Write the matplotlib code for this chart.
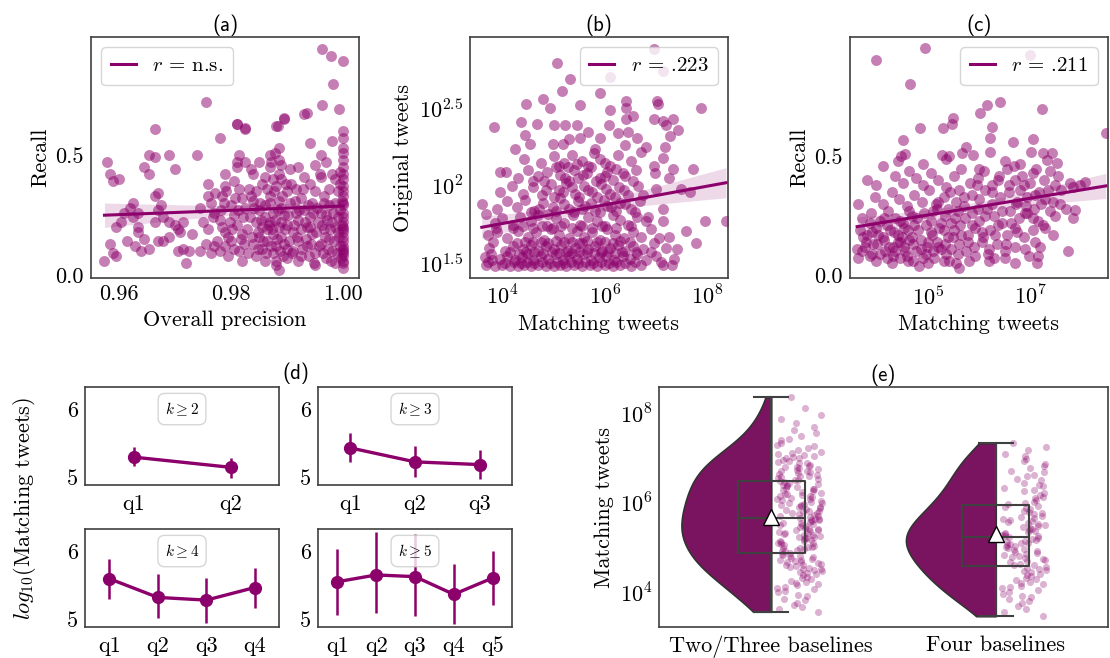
import numpy as np
import matplotlib
matplotlib.use('Agg')
import matplotlib.pyplot as plt
from matplotlib.ticker import FixedLocator, FuncFormatter

plt.rcParams['font.family'] = 'cmr10'
plt.rcParams['mathtext.fontset'] = 'cm'
plt.rcParams['axes.unicode_minus'] = False
plt.rcParams['axes.formatter.use_mathtext'] = True

# ---------------- data ----------------
# (a) overall precision vs recall
points_a = [
    (0.9575, 0.06), (0.958, 0.47), (0.9585, 0.42), (0.959, 0.39), (0.960, 0.40), (0.9585, 0.13),
    (0.959, 0.09), (0.9595, 0.20), (0.9605, 0.22), (0.961, 0.26), (0.962, 0.28), (0.9625, 0.30),
    (0.9615, 0.14), (0.963, 0.12), (0.9635, 0.26), (0.9645, 0.45), (0.9655, 0.42), (0.9645, 0.15),
    (0.964, 0.10), (0.9635, 0.20), (0.9655, 0.50), (0.9665, 0.33), (0.967, 0.34), (0.9665, 0.22),
    (0.967, 0.27), (0.9675, 0.29), (0.967, 0.14), (0.968, 0.14), (0.9665, 0.61), (0.9665, 0.49),
    (0.969, 0.50), (0.969, 0.22), (0.970, 0.21), (0.9705, 0.19), (0.971, 0.18), (0.970, 0.44),
    (0.9705, 0.10), (0.9715, 0.11), (0.972, 0.05), (0.9725, 0.10), (0.974, 0.50), (0.9745, 0.10),
    (0.975, 0.22), (0.9755, 0.13), (0.976, 0.38), (0.976, 0.33), (0.9765, 0.30), (0.9756, 0.72),
    (0.9765, 0.09), (0.977, 0.26), (0.9775, 0.14), (0.977, 0.12),
    (0.978, 0.57), (0.979, 0.42), (0.979, 0.37), (0.9785, 0.33), (0.978, 0.23), (0.9785, 0.20),
    (0.979, 0.18), (0.9795, 0.16), (0.979, 0.12), (0.978, 0.10), (0.9795, 0.08), (0.980, 0.29),
    (0.9805, 0.25), (0.980, 0.14), (0.981, 0.47), (0.981, 0.45), (0.9805, 0.39), (0.9815, 0.36),
    (0.981, 0.63), (0.9815, 0.50), (0.981, 0.21), (0.9815, 0.10), (0.982, 0.06), (0.982, 0.32),
    (0.9825, 0.61), (0.9825, 0.47), (0.9825, 0.28), (0.982, 0.17), (0.983, 0.09), (0.9835, 0.33),
    (0.9835, 0.44), (0.984, 0.42), (0.984, 0.31), (0.9845, 0.22), (0.984, 0.13), (0.9845, 0.08),
    (0.985, 0.47), (0.9855, 0.38), (0.985, 0.27), (0.9855, 0.20), (0.985, 0.16), (0.9855, 0.11),
    (0.986, 0.06), (0.986, 0.41), (0.9865, 0.36), (0.986, 0.24), (0.9865, 0.19), (0.9865, 0.14),
    (0.987, 0.50), (0.987, 0.45), (0.9875, 0.40), (0.987, 0.30), (0.9875, 0.26), (0.987, 0.22),
    (0.9875, 0.17), (0.988, 0.12), (0.9875, 0.09), (0.988, 0.06), (0.988, 0.62), (0.9885, 0.53),
    (0.9885, 0.42), (0.988, 0.37), (0.9885, 0.31), (0.9885, 0.20), (0.988, 0.04), (0.9885, 0.02),
    (0.989, 0.46), (0.989, 0.40), (0.9895, 0.65), (0.989, 0.28), (0.9895, 0.25), (0.989, 0.16),
    (0.9895, 0.13), (0.990, 0.07), (0.990, 0.35), (0.9905, 0.44), (0.9905, 0.30), (0.990, 0.21),
    (0.991, 0.18), (0.991, 0.10), (0.9915, 0.36), (0.9915, 0.26), (0.992, 0.45), (0.992, 0.23),
    (0.992, 0.14), (0.9925, 0.08), (0.9925, 0.32), (0.993, 0.67), (0.993, 0.41), (0.993, 0.27),
    (0.9935, 0.20), (0.9935, 0.12), (0.994, 0.55), (0.994, 0.38), (0.994, 0.24), (0.9945, 0.30),
    (0.9945, 0.17), (0.995, 0.46), (0.995, 0.09), (0.9955, 0.22), (0.995, 0.04),
    (0.996, 0.50), (0.996, 0.41), (0.9965, 0.33), (0.996, 0.26), (0.9965, 0.19), (0.996, 0.13),
    (0.997, 0.07), (0.997, 0.47), (0.9975, 0.36), (0.997, 0.25), (0.9975, 0.15), (0.998, 0.10),
    (0.998, 0.56), (0.998, 0.42), (0.9985, 0.30), (0.998, 0.22), (0.9985, 0.05), (0.999, 0.35),
    (0.999, 0.18), (0.9995, 0.12), (0.9995, 0.43), (0.9995, 0.27), (1.0, 0.57), (1.0, 0.60),
    (1.0, 0.53), (1.0, 0.48), (1.0, 0.40), (1.0, 0.37), (1.0, 0.33), (1.0, 0.30), (1.0, 0.26),
    (1.0, 0.22), (1.0, 0.20), (1.0, 0.18), (1.0, 0.14), (1.0, 0.11), (1.0, 0.08), (1.0, 0.06),
    (1.0, 0.03), (0.9963, 0.944), (0.9978, 0.912), (1.0, 0.893), (0.9981, 0.796), (0.9963, 0.708),
    (0.9992, 0.692), (0.9935, 0.674), (0.9895, 0.656), (0.9883, 0.621), (0.9825, 0.614),
    (0.981, 0.629),
    (0.9782, 0.27), (0.9788, 0.30), (0.9792, 0.35), (0.9798, 0.22), (0.9802, 0.19), (0.9806, 0.11),
    (0.9808, 0.32), (0.9812, 0.27), (0.9818, 0.15), (0.9822, 0.24), (0.9824, 0.13), (0.9828, 0.19),
    (0.9832, 0.36), (0.9834, 0.24), (0.9838, 0.16), (0.9842, 0.28), (0.9844, 0.35), (0.9848, 0.11),
    (0.9852, 0.30), (0.9849, 0.18),
    (0.9853, 0.23), (0.9858, 0.14), (0.9861, 0.29), (0.9863, 0.09), (0.9867, 0.21), (0.9869, 0.33),
    (0.9872, 0.12), (0.9874, 0.19), (0.9877, 0.35), (0.9879, 0.23), (0.9882, 0.15), (0.9884, 0.27),
    (0.9887, 0.10), (0.9889, 0.22), (0.9891, 0.33), (0.9893, 0.08), (0.9896, 0.19), (0.9898, 0.38),
    (0.9899, 0.11), (0.9886, 0.48), (0.9878, 0.51), (0.9872, 0.47),
    (0.9902, 0.25), (0.9904, 0.14), (0.9907, 0.38), (0.9909, 0.09), (0.9912, 0.21), (0.9914, 0.31),
    (0.9917, 0.16), (0.9919, 0.06), (0.9922, 0.27), (0.9924, 0.19), (0.9927, 0.11), (0.9929, 0.36),
    (0.9932, 0.22), (0.9934, 0.15), (0.9937, 0.29), (0.9939, 0.08), (0.9941, 0.20), (0.9943, 0.13),
    (0.9946, 0.26), (0.9948, 0.05), (0.9949, 0.35), (0.9952, 0.18), (0.9954, 0.28), (0.9957, 0.12),
    (0.9959, 0.42),
    (0.9962, 0.21), (0.9964, 0.09), (0.9966, 0.30), (0.9968, 0.16), (0.9971, 0.23), (0.9973, 0.11),
    (0.9974, 0.29), (0.9977, 0.19), (0.9979, 0.06), (0.9981, 0.26), (0.9983, 0.14), (0.9986, 0.20),
    (0.9988, 0.09), (0.9991, 0.24), (0.9993, 0.16), (0.9996, 0.07), (0.9998, 0.21), (1.0, 0.24),
    (1.0, 0.16), (1.0, 0.12), (1.0, 0.09), (1.0, 0.29), (1.0, 0.35), (1.0, 0.42), (1.0, 0.45),
    (1.0, 0.51), (1.0, 0.19), (1.0, 0.10), (1.0, 0.05), (0.9997, 0.31), (0.9994, 0.38),
    (0.9985, 0.40),
    (0.9595, 0.08), (0.9625, 0.24), (0.9635, 0.18), (0.9655, 0.11), (0.968, 0.24), (0.969, 0.16),
    (0.9715, 0.22), (0.973, 0.17), (0.9745, 0.28), (0.976, 0.19), (0.9768, 0.24), (0.9772, 0.34),
]
precision_a = [p[0] for p in points_a]
recall_a = [p[1] for p in points_a]

# (b) log10 matching tweets vs log10 original tweets
points_b = [
    (3.69, 1.49), (3.85, 1.48), (4.0, 1.49), (4.15, 1.48), (4.3, 1.48), (4.42, 1.49), (4.55, 1.48),
    (4.7, 1.49), (4.85, 1.48), (5.0, 1.48), (5.12, 1.49), (5.25, 1.48), (5.4, 1.49), (5.55, 1.48),
    (5.7, 1.49), (5.85, 1.48), (6.0, 1.49), (6.15, 1.48), (6.3, 1.49), (6.5, 1.48), (6.7, 1.49),
    (7.14, 1.49), (7.3, 1.49),
    (3.66, 1.54), (3.8, 1.52), (3.95, 1.53), (4.1, 1.55), (4.25, 1.52), (4.38, 1.54), (4.5, 1.56),
    (4.6, 1.52), (4.75, 1.55), (4.9, 1.53), (5.05, 1.56), (5.18, 1.52), (5.3, 1.55), (5.45, 1.53),
    (5.58, 1.56), (5.72, 1.52), (5.88, 1.54), (6.02, 1.55), (6.18, 1.52), (6.35, 1.55), (6.48, 1.53),
    (6.62, 1.56), (6.8, 1.52), (7.0, 1.55),
    (3.75, 1.60), (4.05, 1.58), (4.2, 1.61), (4.4, 1.59), (4.55, 1.62), (4.7, 1.58), (4.85, 1.61),
    (5.0, 1.59), (5.15, 1.62), (5.28, 1.58), (5.42, 1.60), (5.55, 1.63), (5.68, 1.59), (5.8, 1.61),
    (5.95, 1.58), (6.1, 1.60), (6.25, 1.62), (6.4, 1.58), (6.55, 1.61), (6.75, 1.59), (7.4, 1.59),
    (7.77, 1.63),
    (3.72, 1.68), (3.9, 1.70), (4.1, 1.66), (4.3, 1.71), (4.5, 1.67), (4.65, 1.70), (4.82, 1.65),
    (4.95, 1.72), (5.1, 1.68), (5.3, 1.66), (5.45, 1.71), (5.6, 1.67), (5.75, 1.70), (5.9, 1.65),
    (6.05, 1.72), (6.2, 1.68), (6.38, 1.66), (6.55, 1.70), (6.7, 1.67), (6.9, 1.72), (7.05, 1.66),
    (7.58, 1.71),
    (3.69, 1.82), (3.85, 1.76), (4.0, 1.79), (4.2, 1.75), (4.35, 1.80), (4.55, 1.77), (4.7, 1.81),
    (4.88, 1.74), (5.05, 1.79), (5.2, 1.76), (5.38, 1.81), (5.52, 1.75), (5.68, 1.80), (5.85, 1.77),
    (6.0, 1.74), (6.15, 1.81), (6.3, 1.78), (6.45, 1.75), (6.62, 1.80), (6.8, 1.77), (7.13, 1.77),
    (7.95, 1.77), (8.36, 1.77),
    (3.6, 1.88), (3.9, 1.85), (4.1, 1.90), (4.28, 1.86), (4.45, 1.91), (4.62, 1.84), (4.8, 1.89),
    (4.98, 1.86), (5.12, 1.92), (5.3, 1.85), (5.48, 1.90), (5.62, 1.87), (5.8, 1.84), (5.98, 1.91),
    (6.12, 1.86), (6.3, 1.89), (6.5, 1.85), (6.68, 1.90), (7.14, 1.85),
    (3.95, 1.96), (4.18, 2.0), (4.4, 1.95), (4.6, 1.99), (4.78, 1.94), (4.95, 2.01), (5.1, 1.97),
    (5.25, 2.02), (5.42, 1.95), (5.6, 2.0), (5.75, 1.96), (5.92, 2.01), (6.1, 1.95), (6.28, 1.99),
    (6.45, 1.94), (6.65, 2.0), (7.49, 1.98), (7.66, 1.96),
    (3.95, 2.09), (4.08, 2.09), (4.3, 2.05), (4.5, 2.10), (4.7, 2.06), (4.88, 2.09), (5.05, 2.12),
    (5.22, 2.05), (5.4, 2.10), (5.58, 2.07), (5.72, 2.12), (5.9, 2.05), (6.05, 2.09), (6.22, 2.11),
    (6.4, 2.06), (6.6, 2.10), (6.98, 2.08), (7.33, 2.11), (7.71, 2.11),
    (4.42, 2.17), (4.75, 2.15), (5.0, 2.19), (5.2, 2.15), (5.35, 2.20), (5.55, 2.16), (5.78, 2.21),
    (6.0, 2.15), (6.26, 2.20), (6.95, 2.13), (7.14, 2.18),
    (4.44, 2.33), (4.54, 2.27), (4.99, 2.27), (5.18, 2.27), (5.51, 2.31), (5.68, 2.35), (5.90, 2.31),
    (6.08, 2.39), (6.26, 2.34), (6.45, 2.35), (6.39, 2.26), (6.62, 2.31), (6.81, 2.25), (7.17, 2.25),
    (7.27, 2.32), (3.84, 2.38), (4.36, 2.41), (4.67, 2.40), (5.01, 2.39), (5.22, 2.39), (5.45, 2.39),
    (6.10, 2.49), (6.42, 2.55), (6.42, 2.50), (6.55, 2.45), (6.42, 2.43), (7.02, 2.55), (7.04, 2.53),
    (6.95, 2.43), (7.14, 2.42), (7.33, 2.43), (7.20, 2.39), (7.43, 2.36), (7.88, 2.50), (4.47, 2.53),
    (4.80, 2.56), (4.93, 2.50), (5.51, 2.52), (5.06, 2.79), (5.31, 2.69), (5.16, 2.61), (5.90, 2.60),
    (6.95, 2.88), (6.10, 2.70), (7.14, 2.74), (4.25, 2.24), (5.3, 2.30), (5.8, 2.24),
    (4.05, 1.50), (4.22, 1.51), (4.36, 1.50), (4.48, 1.51), (4.62, 1.50), (4.78, 1.51), (4.92, 1.50),
    (5.07, 1.51), (5.2, 1.50), (5.34, 1.51), (5.48, 1.50), (5.62, 1.51), (5.77, 1.50), (5.93, 1.51),
    (6.08, 1.50), (6.22, 1.51), (6.4, 1.50), (6.58, 1.51),
    (4.15, 1.57), (4.32, 1.56), (4.46, 1.57), (4.62, 1.575), (4.8, 1.565), (4.96, 1.57), (5.1, 1.565),
    (5.24, 1.575), (5.36, 1.565), (5.5, 1.57), (5.65, 1.575), (5.78, 1.565), (5.92, 1.57),
    (6.06, 1.575), (6.2, 1.565), (6.34, 1.57), (6.6, 1.575), (6.9, 1.57),
    (4.28, 1.63), (4.45, 1.64), (4.6, 1.635), (4.75, 1.64), (4.9, 1.63), (5.05, 1.645), (5.2, 1.635),
    (5.35, 1.64), (5.5, 1.63), (5.65, 1.645), (5.85, 1.635), (6.0, 1.64), (6.15, 1.63), (6.3, 1.645),
    (6.48, 1.64),
    (4.2, 1.73), (4.4, 1.74), (4.6, 1.73), (4.78, 1.74), (4.98, 1.73), (5.15, 1.74), (5.35, 1.73),
    (5.55, 1.74), (5.75, 1.73), (5.95, 1.74), (6.22, 1.73), (6.5, 1.74),
    (4.55, 1.83), (4.72, 1.85), (4.9, 1.82), (5.05, 1.84), (5.2, 1.88), (5.4, 1.83), (5.55, 1.85),
    (5.72, 1.89), (5.9, 1.83), (6.05, 1.87), (6.22, 1.84), (6.4, 1.88), (6.58, 1.83),
    (4.85, 1.97), (5.0, 1.93), (5.18, 1.96), (5.35, 1.99), (5.5, 1.93), (5.68, 1.97), (5.85, 1.93),
    (6.02, 1.98), (6.2, 1.93), (6.38, 1.97), (6.55, 2.03),
    (4.6, 2.03), (4.82, 2.03), (5.12, 2.07), (5.3, 2.03), (5.48, 2.05), (5.65, 2.08), (5.82, 2.03),
    (6.0, 2.06), (6.15, 2.04), (6.35, 2.08),
    (5.1, 2.13), (5.28, 2.12), (5.45, 2.14), (5.68, 2.13), (5.9, 2.17), (6.1, 2.13), (6.5, 2.16),
    (6.7, 2.22),
    (3.72, 1.51), (3.78, 1.56), (3.82, 1.64), (3.88, 1.73), (7.1, 1.51), (7.2, 1.60), (7.25, 1.67),
    (7.35, 1.53), (6.95, 1.63), (6.85, 1.80), (6.75, 1.94), (7.0, 1.98), (7.25, 2.05),
]
log_matching_b = [p[0] for p in points_b]
log_original_b = [p[1] for p in points_b]

# (c) log10 matching tweets vs recall
points_c = [
    (5.6, 0.03), (5.55, 0.05), (4.6, 0.06), (4.9, 0.07), (5.3, 0.06), (5.8, 0.06), (6.2, 0.06),
    (6.5, 0.07), (6.7, 0.05), (7.13, 0.05), (7.15, 0.08), (4.3, 0.08), (5.0, 0.05), (6.3, 0.07),
    (3.6, 0.11), (3.75, 0.12), (3.9, 0.09), (4.0, 0.13), (4.15, 0.10), (4.3, 0.12), (4.45, 0.14),
    (4.55, 0.10), (4.7, 0.13), (4.85, 0.11), (5.0, 0.14), (5.1, 0.10), (5.2, 0.12), (5.35, 0.09),
    (5.45, 0.11), (5.6, 0.13), (5.75, 0.10), (5.9, 0.12), (6.05, 0.14), (6.2, 0.11), (6.35, 0.13),
    (6.5, 0.10), (6.7, 0.12), (6.9, 0.11), (7.1, 0.14), (7.75, 0.10), (5.25, 0.11), (4.95, 0.09),
    (3.65, 0.19), (3.8, 0.17), (3.98, 0.20), (4.1, 0.16), (4.25, 0.19), (4.4, 0.17), (4.52, 0.20),
    (4.68, 0.16), (4.8, 0.19), (4.95, 0.21), (5.08, 0.17), (5.22, 0.20), (5.38, 0.16), (5.5, 0.19),
    (5.62, 0.21), (5.78, 0.17), (5.92, 0.20), (6.08, 0.16), (6.22, 0.19), (6.38, 0.21), (6.55, 0.17),
    (6.7, 0.20), (6.88, 0.16), (7.05, 0.19), (7.25, 0.21), (7.45, 0.17), (5.3, 0.19),
    (3.7, 0.24), (3.88, 0.26), (4.05, 0.23), (4.2, 0.27), (4.35, 0.24), (4.5, 0.22), (4.62, 0.27),
    (4.78, 0.24), (4.92, 0.26), (5.05, 0.23), (5.18, 0.28), (5.32, 0.25), (5.45, 0.22), (5.58, 0.27),
    (5.72, 0.24), (5.86, 0.26), (6.0, 0.23), (6.15, 0.28), (6.3, 0.25), (6.45, 0.22), (6.6, 0.27),
    (6.78, 0.24), (6.95, 0.26), (7.15, 0.23), (7.4, 0.27), (7.85, 0.24), (7.89, 0.275),
    (3.62, 0.30), (3.95, 0.33), (4.1, 0.30), (4.28, 0.35), (4.42, 0.32), (4.58, 0.29), (4.72, 0.34),
    (4.88, 0.31), (5.02, 0.36), (5.15, 0.30), (5.3, 0.33), (5.42, 0.35), (5.55, 0.31), (5.7, 0.29),
    (5.85, 0.34), (6.0, 0.32), (6.12, 0.36), (6.25, 0.30), (6.42, 0.33), (6.58, 0.35), (6.75, 0.31),
    (6.92, 0.29), (7.1, 0.34), (7.3, 0.32), (7.6, 0.30),
    (3.8, 0.40), (3.98, 0.38), (4.35, 0.42), (4.5, 0.39), (4.62, 0.44), (4.75, 0.41), (4.9, 0.38),
    (5.05, 0.43), (5.2, 0.40), (5.35, 0.37), (5.5, 0.42), (5.65, 0.45), (5.82, 0.39), (5.98, 0.41),
    (6.1, 0.44), (6.25, 0.38), (6.4, 0.42), (6.55, 0.45), (6.7, 0.40), (6.88, 0.38), (7.05, 0.43),
    (7.5, 0.38), (7.85, 0.37), (7.98, 0.38), (8.08, 0.394),
    (3.98, 0.908), (4.93, 0.958), (4.65, 0.807), (7.0, 0.93), (6.41, 0.732), (6.15, 0.718),
    (6.02, 0.683), (7.24, 0.70), (5.49, 0.662), (5.47, 0.638), (5.28, 0.62), (4.84, 0.62),
    (6.26, 0.627), (8.49, 0.60), (4.50, 0.57), (6.21, 0.58), (6.66, 0.563), (7.05, 0.573),
    (5.75, 0.542), (5.66, 0.517), (5.87, 0.507), (6.21, 0.52), (7.03, 0.52), (7.26, 0.517),
    (7.44, 0.517), (7.54, 0.475), (7.34, 0.486), (4.47, 0.503), (4.55, 0.51), (5.26, 0.507),
    (5.41, 0.503), (4.4, 0.48), (4.9, 0.47), (5.35, 0.49), (6.5, 0.48), (6.8, 0.47), (4.1, 0.46),
    (3.62, 0.07), (3.7, 0.10), (3.78, 0.14), (3.85, 0.08), (3.92, 0.13), (3.98, 0.06), (4.05, 0.09),
    (4.12, 0.15), (4.18, 0.07), (4.22, 0.12), (4.28, 0.05), (4.35, 0.10), (4.4, 0.14), (4.45, 0.07),
    (4.52, 0.12), (4.58, 0.08), (4.63, 0.15), (4.7, 0.06), (4.76, 0.10), (4.82, 0.04), (3.72, 0.16),
    (3.9, 0.18), (4.02, 0.17), (4.18, 0.21), (4.32, 0.18), (4.48, 0.16), (4.6, 0.19), (4.72, 0.21),
    (3.85, 0.22), (4.12, 0.24), (4.45, 0.23), (4.68, 0.25),
    (4.85, 0.15), (4.98, 0.12), (5.05, 0.18), (5.12, 0.07), (5.18, 0.14), (5.25, 0.22), (5.32, 0.13),
    (5.4, 0.06), (5.48, 0.16), (5.52, 0.24), (5.58, 0.09), (5.65, 0.17), (5.7, 0.33), (5.78, 0.14),
    (5.85, 0.21), (5.92, 0.08), (5.98, 0.28), (6.05, 0.18), (6.12, 0.25), (6.18, 0.09), (6.25, 0.35),
    (6.32, 0.17), (6.38, 0.40), (6.45, 0.27), (6.52, 0.13), (6.58, 0.38), (6.62, 0.22), (6.68, 0.46),
    (5.1, 0.27), (5.2, 0.31), (5.38, 0.28), (5.6, 0.36), (5.95, 0.38), (6.0, 0.45),
    (6.72, 0.30), (6.8, 0.36), (6.85, 0.42), (6.9, 0.26), (6.95, 0.33), (7.0, 0.39), (7.08, 0.28),
    (7.12, 0.45), (7.18, 0.35), (7.22, 0.30), (7.28, 0.40), (7.35, 0.36), (7.4, 0.44), (7.45, 0.31),
    (7.5, 0.25), (7.55, 0.42), (7.62, 0.36), (7.7, 0.28), (7.78, 0.39), (6.75, 0.18), (7.05, 0.24),
    (7.3, 0.20), (7.2, 0.12), (6.98, 0.08),
]
log_matching_c = [p[0] for p in points_c]
recall_c = [p[1] for p in points_c]

# (d) log10(matching tweets) per quantile, mean and 95% CI
k_labels = [r'$k \geq 2$', r'$k \geq 3$', r'$k \geq 4$', r'$k \geq 5$']
d_mean = [[5.30, 5.15],
          [5.435, 5.23, 5.19],
          [5.60, 5.325, 5.285, 5.47],
          [5.555, 5.655, 5.63, 5.37, 5.61]]
d_low = [[5.17, 5.00],
         [5.23, 5.01, 4.975],
         [5.30, 5.015, 4.955, 5.17],
         [5.065, 5.10, 5.05, 4.94, 5.21]]
d_high = [[5.45, 5.29],
          [5.65, 5.46, 5.40],
          [5.89, 5.67, 5.61, 5.76],
          [6.04, 6.29, 6.26, 5.82, 6.00]]

# (e) log10 matching tweets by number of baselines
e_categories = ['Two/Three baselines', 'Four baselines']
e_two_three = [
    3.58, 3.63, 3.69, 3.74, 3.78,
    3.83, 3.87, 3.92, 3.95, 4.01, 4.04, 4.09, 4.11, 4.14, 4.17,
    4.19, 4.22, 4.24, 4.27, 4.31, 4.33, 4.36, 4.39, 4.41, 4.44, 4.46, 4.48, 4.51, 4.52, 4.54,
    4.56, 4.57, 4.59, 4.61, 4.62, 4.64, 4.66, 4.68, 4.69, 4.71, 4.73, 4.74, 4.76, 4.78, 4.80,
    4.82, 4.83, 4.85, 4.87, 4.89, 4.92,
    4.94, 4.95, 4.97, 4.99, 5.00, 5.02, 5.03, 5.05, 5.07, 5.08, 5.10, 5.11, 5.13, 5.15, 5.16,
    5.18, 5.19, 5.21, 5.22, 5.24, 5.25, 5.27, 5.28, 5.29,
    5.31, 5.33, 5.34, 5.36, 5.37, 5.39, 5.40, 5.42, 5.43, 5.45, 5.47, 5.48, 5.50, 5.51, 5.53,
    5.55, 5.56, 5.58, 5.59, 5.61, 5.62, 5.64, 5.65, 5.67,
    5.69, 5.70, 5.72, 5.74, 5.75, 5.77, 5.78, 5.80, 5.82, 5.83, 5.85, 5.86, 5.88, 5.90, 5.91,
    5.93, 5.95, 5.96, 5.98, 6.00, 6.01, 6.03, 6.04,
    6.06, 6.08, 6.09, 6.11, 6.13, 6.15, 6.16, 6.18, 6.20, 6.21, 6.23, 6.25, 6.27, 6.28, 6.30,
    6.32, 6.34, 6.35, 6.37, 6.39, 6.40, 6.42,
    6.44, 6.46, 6.48, 6.50, 6.52, 6.53, 6.55, 6.57, 6.59, 6.61, 6.62, 6.64, 6.66, 6.68, 6.70,
    6.72, 6.73, 6.75, 6.77, 6.79,
    6.81, 6.83, 6.85, 6.88, 6.90, 6.92, 6.94, 6.96, 6.99, 7.01, 7.03, 7.05, 7.07, 7.09, 7.11,
    7.14, 7.18, 7.22, 7.26, 7.30, 7.34, 7.39, 7.43, 7.48,
    7.55, 7.62, 7.70, 7.78, 7.86,
    7.95, 8.12, 8.35,
]
e_four = [
    3.48, 3.57, 3.64, 3.71, 3.77,
    3.82, 3.86, 3.90, 3.94, 3.98, 4.02, 4.06, 4.10, 4.13, 4.16,
    4.19, 4.22, 4.25, 4.28, 4.31, 4.34, 4.37, 4.40, 4.43, 4.46, 4.48, 4.51, 4.54,
    4.56, 4.58, 4.61, 4.63, 4.65, 4.68, 4.70, 4.72, 4.75, 4.77, 4.79, 4.82, 4.84, 4.86, 4.89, 4.91,
    4.94, 4.96, 4.98, 5.00, 5.02, 5.04, 5.06, 5.08, 5.10, 5.12, 5.14, 5.16, 5.18, 5.20, 5.22,
    5.24, 5.26, 5.27, 5.29,
    5.31, 5.33, 5.35, 5.37, 5.40, 5.42, 5.44, 5.46, 5.48, 5.51, 5.53, 5.55, 5.57, 5.60, 5.62,
    5.64, 5.66,
    5.69, 5.72, 5.75, 5.77, 5.80, 5.83, 5.86, 5.89, 5.92, 5.94, 5.97, 6.00, 6.03,
    6.07, 6.11, 6.14, 6.18, 6.22, 6.26, 6.29, 6.33, 6.37, 6.41,
    6.45, 6.50, 6.54, 6.59, 6.63, 6.68, 6.72, 6.77,
    6.82, 6.87, 6.93, 6.98, 7.04, 7.09,
    7.17, 7.25, 7.33,
]

# ---------------- style ----------------
C = '#8c006b'
VC = '#7a1460'
SPINE = '0.25'
TICK_FS = 16
LABEL_FS = 16
W, H = 1110, 658

fig = plt.figure(figsize=(W / 100, H / 100), dpi=100)


def add_ax(l, t, r, b, xpad=5):
    ax = fig.add_axes([l / W, 1 - b / H, (r - l) / W, (b - t) / H])
    for s in ax.spines.values():
        s.set_color(SPINE)
        s.set_linewidth(1.2)
    ax.tick_params(length=0, labelsize=TICK_FS, pad=5)
    ax.tick_params(axis='x', pad=xpad)
    return ax


def fmt(f):
    return FuncFormatter(lambda v, p: f(v))


def regline(ax, x, y):
    x = np.asarray(x, float)
    y = np.asarray(y, float)
    slope, icpt = np.polyfit(x, y, 1)
    xs = np.linspace(x.min(), x.max(), 100)
    yhat = icpt + slope * xs
    n = len(x)
    resid = y - (icpt + slope * x)
    s = np.sqrt(np.sum(resid ** 2) / (n - 2))
    se = s * np.sqrt(1.0 / n + (xs - x.mean()) ** 2 / np.sum((x - x.mean()) ** 2))
    ax.fill_between(xs, yhat - 1.97 * se, yhat + 1.97 * se, color=C, alpha=0.15, lw=0, zorder=3)
    line, = ax.plot(xs, yhat, color=C, lw=2.2, zorder=4)
    return line


def scatter(ax, x, y):
    ax.scatter(x, y, s=62, color=C, alpha=0.5, linewidths=0, zorder=2)


def legend(ax, line, label, loc):
    ax.legend([line], [label], loc=loc, fontsize=15, handlelength=1.2, frameon=True,
              framealpha=0.8, edgecolor='0.8', fancybox=True, borderpad=0.45)


TITLE_KW = dict(family='cmss10', fontsize=15, pad=4)

# ---- (a)
ax = add_ax(91, 37, 359, 278)
scatter(ax, precision_a, recall_a)
ln = regline(ax, precision_a, recall_a)
ax.set_xlim(0.9551, 1.0028)
ax.set_ylim(-0.0125, 0.992)
ax.xaxis.set_major_locator(FixedLocator([0.96, 0.98, 1.00]))
ax.xaxis.set_major_formatter(fmt(lambda v: '%.2f' % v))
ax.yaxis.set_major_locator(FixedLocator([0.0, 0.5]))
ax.yaxis.set_major_formatter(fmt(lambda v: '%.1f' % v))
ax.set_xlabel('Overall precision', fontsize=LABEL_FS)
ax.set_ylabel('Recall', fontsize=LABEL_FS)
ax.set_title('(a)', **TITLE_KW)
legend(ax, ln, r'$r$ = n.s.', 'upper left')

# ---- (b)
ax = add_ax(470, 37, 728, 278)
scatter(ax, log_matching_b, log_original_b)
ln = regline(ax, log_matching_b, log_original_b)
ax.set_xlim(3.37, 8.40)
ax.set_ylim(1.405, 2.96)
ax.xaxis.set_major_locator(FixedLocator([4, 6, 8]))
ax.xaxis.set_major_formatter(fmt(lambda v: r'$10^{%g}$' % v))
ax.yaxis.set_major_locator(FixedLocator([1.5, 2.0, 2.5]))
ax.yaxis.set_major_formatter(fmt(lambda v: r'$10^{%g}$' % v))
ax.set_xlabel('Matching tweets', fontsize=LABEL_FS)
ax.set_ylabel('Original tweets', fontsize=LABEL_FS)
ax.set_title('(b)', **TITLE_KW)
legend(ax, ln, r'$r$ = .223', 'upper right')

# ---- (c)
ax = add_ax(850, 37, 1108, 278)
scatter(ax, log_matching_c, recall_c)
ln = regline(ax, log_matching_c, recall_c)
ax.set_xlim(3.46, 8.535)
ax.set_ylim(-0.0127, 1.006)
ax.xaxis.set_major_locator(FixedLocator([5, 7]))
ax.xaxis.set_major_formatter(fmt(lambda v: r'$10^{%g}$' % v))
ax.yaxis.set_major_locator(FixedLocator([0.0, 0.5]))
ax.yaxis.set_major_formatter(fmt(lambda v: '%.1f' % v))
ax.set_xlabel('Matching tweets', fontsize=LABEL_FS)
ax.set_ylabel('Recall', fontsize=LABEL_FS)
ax.set_title('(c)', **TITLE_KW)
legend(ax, ln, r'$r$ = .211', 'upper right')

# ---- (d)
d_boxes = [(85, 387, 279, 485), (318, 387, 512, 485), (85, 529, 279, 627), (318, 529, 512, 627)]
for i, (l, t, r, b) in enumerate(d_boxes):
    ax = add_ax(l, t, r, b, xpad=7)
    n = len(d_mean[i])
    xs = np.arange(n)
    ax.vlines(xs, d_low[i], d_high[i], color=C, lw=1.8, zorder=2)
    ax.plot(xs, d_mean[i], color=C, lw=2.4, marker='o', ms=8.5, zorder=3)
    ax.set_xlim(-0.5, n - 0.5)
    ax.set_ylim(4.89, 6.33)
    ax.xaxis.set_major_locator(FixedLocator(list(xs)))
    ax.xaxis.set_major_formatter(fmt(lambda v: 'q%d' % (int(round(v)) + 1)))
    ax.yaxis.set_major_locator(FixedLocator([5, 6]))
    ax.yaxis.set_major_formatter(fmt(lambda v: '%d' % v))
    ax.text(0.5, 0.775, k_labels[i], transform=ax.transAxes, ha='center', va='center',
            fontsize=11, zorder=5,
            bbox=dict(boxstyle='round,pad=0.45', fc='white', ec='0.8', alpha=0.8))
fig.text(296 / W, 1 - 373 / H, '(d)', family='cmss10', fontsize=15, ha='center', va='center')
fig.text(25 / W, 1 - 508 / H, r'$log_{10}$(Matching tweets)', fontsize=LABEL_FS,
         rotation=90, ha='center', va='center')

# ---- (e)
ax = add_ax(659, 387, 1108, 627, xpad=6)
groups = [np.array(e_two_three), np.array(e_four)]
pos = [0, 1]
parts = ax.violinplot(groups, positions=pos, widths=0.8, showextrema=False,
                      bw_method='scott', points=300)
for body, p in zip(parts['bodies'], pos):
    v = np.array(body.get_paths()[0].vertices)
    v[:, 0] = np.minimum(v[:, 0], p)
    body.set_verts([v])
    body.set_facecolor(VC)
    body.set_edgecolor('0.2')
    body.set_linewidth(1.2)
    body.set_alpha(1)
    body.set_zorder(1)

for g, p in zip(groups, pos):
    idx = np.arange(len(g)) + 1
    jit = 0.025 + 0.2 * np.mod(np.abs(np.sin(idx * 12.9898) * 43758.5453), 1.0)
    ax.scatter(p + jit, g, s=26, color=C, alpha=0.3, linewidths=0, zorder=2)

lk = dict(color='0.25', lw=1.5)
bp = ax.boxplot(groups, positions=pos, widths=0.3, showmeans=True, showfliers=False,
                boxprops=lk, whiskerprops=lk, capprops=lk, medianprops=lk,
                meanprops=dict(marker='^', markerfacecolor='white', markeredgecolor='black',
                               markersize=11, markeredgewidth=1.0),
                manage_ticks=False, zorder=3)
for m in bp['means']:
    m.set_zorder(5)
ax.set_xlim(-0.5, 1.5)
ax.set_ylim(3.24, 8.58)
ax.xaxis.set_major_locator(FixedLocator(pos))
ax.xaxis.set_major_formatter(fmt(lambda v: e_categories[int(round(v))]))
ax.yaxis.set_major_locator(FixedLocator([4, 6, 8]))
ax.yaxis.set_major_formatter(fmt(lambda v: r'$10^{%d}$' % v))
ax.set_ylabel('Matching tweets', fontsize=LABEL_FS)
ax.set_title('(e)', **TITLE_KW)

fig.savefig('out.png', dpi=100)
